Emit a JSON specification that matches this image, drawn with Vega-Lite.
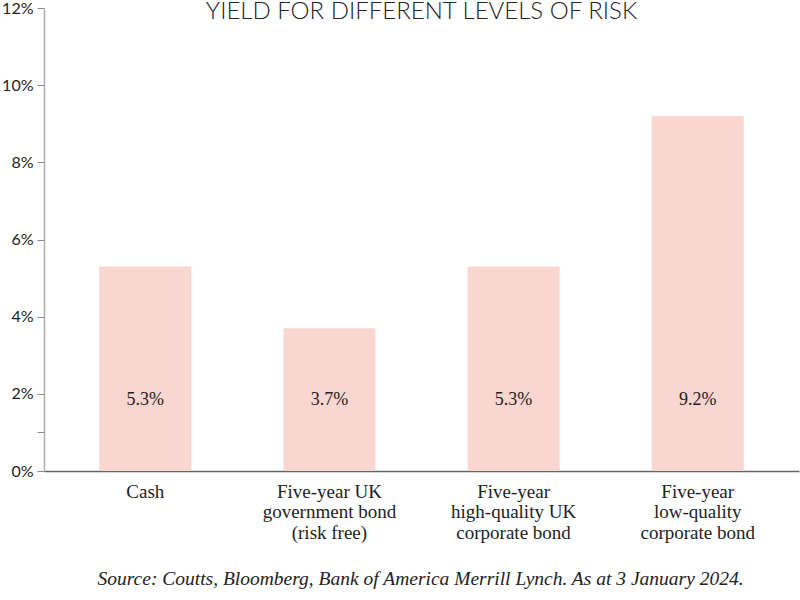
{
  "$schema": "https://vega.github.io/schema/vega-lite/v6.json",
  "autosize": {"type": "none"},
  "padding": {"left": 44, "top": 8, "right": 1, "bottom": 129},
  "width": 755,
  "height": 463,
  "background": "white",
  "title": {
    "text": "YIELD FOR DIFFERENT LEVELS OF RISK",
    "anchor": "middle",
    "frame": "group",
    "offset": -24,
    "font": "Lato",
    "fontSize": 24,
    "fontWeight": 300,
    "color": "#222222"
  },
  "data": {
    "values": [
      {"category": "Cash", "value": 0.053, "label": "5.3%"},
      {"category": "Five-year UK|government bond|(risk free)", "value": 0.037, "label": "3.7%"},
      {"category": "Five-year|high-quality UK|corporate bond", "value": 0.053, "label": "5.3%"},
      {"category": "Five-year|low-quality|corporate bond", "value": 0.092, "label": "9.2%"}
    ]
  },
  "encoding": {
    "x": {
      "field": "category",
      "type": "nominal",
      "sort": null,
      "scale": {"paddingInner": 0.5, "paddingOuter": 0.3},
      "axis": {
        "title": "Source: Coutts, Bloomberg, Bank of America Merrill Lynch. As at 3 January 2024.",
        "titleFont": "Liberation Serif",
        "titleFontStyle": "italic",
        "titleFontWeight": "normal",
        "titleFontSize": 19.5,
        "titleColor": "#222222",
        "titlePadding": 27,
        "titleX": 376,
        "labelExpr": "split(datum.label, '|')",
        "labelAngle": 0,
        "labelFont": "Liberation Serif",
        "labelFontSize": 19,
        "labelColor": "#222222",
        "labelLineHeight": 20.5,
        "labelPadding": 11,
        "labelBaseline": "top",
        "ticks": false,
        "domainColor": "#666666",
        "domainWidth": 1.5
      }
    }
  },
  "layer": [
    {
      "mark": {"type": "bar", "color": "#FAD6D0"},
      "encoding": {
        "y": {
          "field": "value",
          "type": "quantitative",
          "scale": {"domain": [0, 0.12], "nice": false},
          "axis": {
            "title": null,
            "values": [0, 0.01, 0.02, 0.04, 0.06, 0.08, 0.1, 0.12],
            "labelExpr": "datum.value == 0.01 ? '' : format(datum.value, '.0%')",
            "labelFont": "Lato",
            "labelFontSize": 16,
            "labelColor": "#222222",
            "labelPadding": 4,
            "grid": false,
            "domainColor": "#aaaaaa",
            "domainWidth": 1.5,
            "tickColor": "#888888",
            "tickSize": 7
          }
        }
      }
    },
    {
      "mark": {"type": "text", "font": "Liberation Serif", "fontSize": 18, "color": "#222222", "baseline": "middle"},
      "encoding": {
        "y": {"datum": 0.0185, "type": "quantitative"},
        "text": {"field": "label"}
      }
    }
  ],
  "config": {"view": {"stroke": null}, "text": {"font": "Liberation Serif"}}
}
